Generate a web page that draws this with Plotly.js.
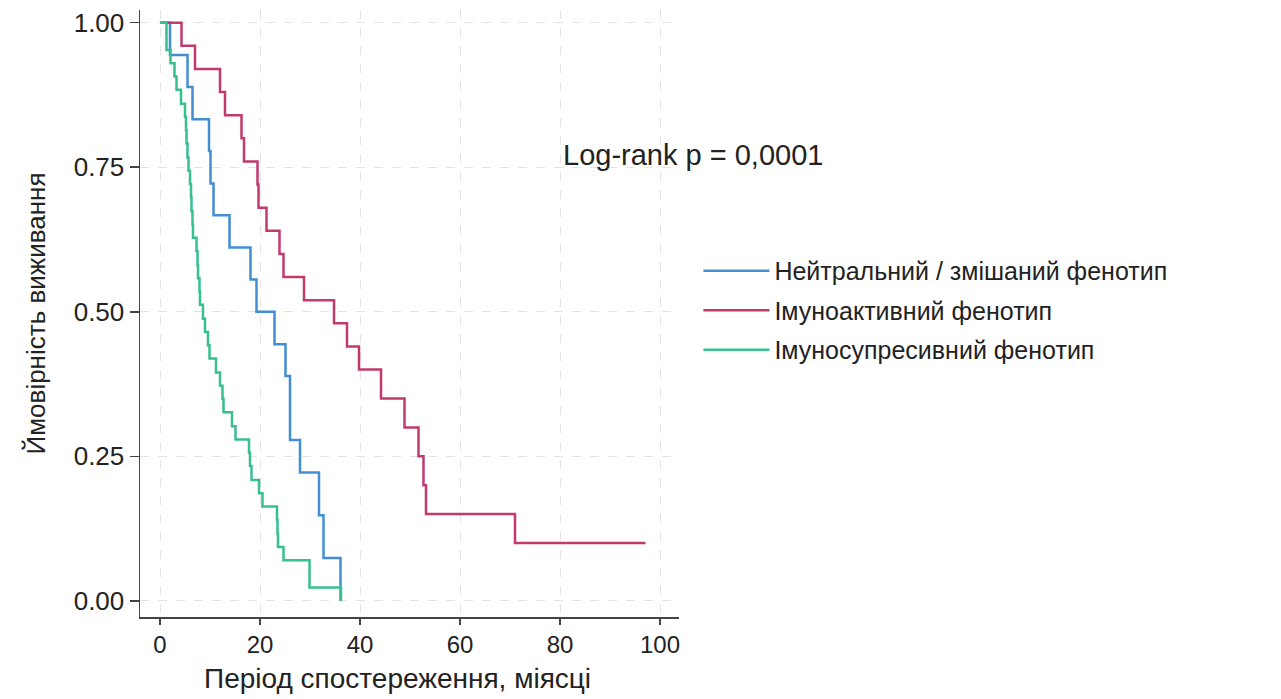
<!DOCTYPE html>
<html>
<head>
<meta charset="utf-8">
<script src="https://cdn.plot.ly/plotly-3.0.1.min.js"></script>
<style>
  html, body { margin: 0; padding: 0; background: #ffffff; }
  #chart { width: 1281px; height: 699px; }
</style>
</head>
<body>
<div id="chart"></div>
<script>
// Series names (legend)
const seriesNames = [
  "Нейтральний / змішаний фенотип",
  "Імуноактивний фенотип",
  "Імуносупресивний фенотип"
];

// Нейтральний / змішаний фенотип: step times (months) and survival
const neutralTime = [0, 2.0, 5.5, 6.5, 9.8, 10.1, 10.7, 13.9, 18.1, 19.3, 22.9, 25.1, 26.0, 28.0, 31.8, 32.7, 36.1];
const neutralSurv = [1.00, 0.944, 0.889, 0.833, 0.778, 0.722, 0.667, 0.611, 0.556, 0.500, 0.444, 0.389, 0.278, 0.222, 0.148, 0.074, 0.00];

// Імуноактивний фенотип
const activeTime = [0, 4.3, 7.0, 12.0, 13.0, 16.3, 16.8, 19.5, 19.7, 21.3, 23.9, 24.7, 28.8, 34.8, 37.4, 39.8, 44.2, 48.9, 51.7, 52.7, 53.2, 71.0, 97.1];
const activeSurv = [1.00, 0.96, 0.92, 0.88, 0.84, 0.80, 0.76, 0.72, 0.68, 0.64, 0.60, 0.56, 0.52, 0.48, 0.44, 0.40, 0.35, 0.30, 0.25, 0.20, 0.15, 0.10, 0.10];

// Імуносупресивний фенотип
const suppTime = [0, 1.3, 2.1, 2.9, 3.3, 4.2, 5.0, 5.2, 5.3, 5.5, 5.7, 6.0, 6.2, 6.3, 6.5, 6.6, 7.3, 7.5, 7.6, 7.9, 8.0, 8.6, 9.0, 9.6, 9.9, 11.2, 12.0, 12.5, 12.7, 14.4, 15.1, 17.8, 18.0, 18.3, 19.8, 20.5, 23.4, 23.5, 23.6, 24.7, 29.9, 36.2];
const suppSurv = [1.00, 0.953, 0.930, 0.907, 0.884, 0.860, 0.837, 0.814, 0.791, 0.767, 0.744, 0.721, 0.698, 0.674, 0.651, 0.628, 0.605, 0.581, 0.558, 0.535, 0.512, 0.488, 0.465, 0.442, 0.419, 0.395, 0.372, 0.349, 0.326, 0.302, 0.279, 0.256, 0.233, 0.209, 0.186, 0.163, 0.140, 0.116, 0.093, 0.070, 0.023, 0.00];

// Axis ticks and titles
const xTicks = [0, 20, 40, 60, 80, 100];
const yTicks = [0, 0.25, 0.5, 0.75, 1];
const yTickLabels = ["0.00", "0.25", "0.50", "0.75", "1.00"];
const xTitle = "Період спостереження, міясці";
const yTitle = "Ймовірність виживання";
const pValueText = "Log-rank p = 0,0001";

const colors = ["#438ed3", "#c23a6c", "#38bf8e"];
const FONT = "Liberation Sans, Arial, Helvetica, sans-serif";

const traces = [
  { x: neutralTime, y: neutralSurv, name: seriesNames[0], legendgroup: "g1" },
  { x: activeTime, y: activeSurv, name: seriesNames[1], legendgroup: "g2" },
  { x: suppTime, y: suppSurv, name: seriesNames[2], legendgroup: "g3" }
].map((t, i) => Object.assign(t, {
  type: "scatter",
  mode: "lines",
  line: { shape: "hv", color: colors[i], width: 2.5 },
  hoverinfo: "x+y+name"
}));

const layout = {
  width: 1281,
  height: 699,
  margin: { l: 140, r: 602, t: 10, b: 82 },
  paper_bgcolor: "#ffffff",
  plot_bgcolor: "#ffffff",
  font: { family: FONT, color: "#222222", size: 26 },
  showlegend: true,
  legend: {
    x: 1.036, xanchor: "left",
    y: 0.505, yanchor: "middle",
    font: { family: FONT, size: 25, color: "#222222" },
    bgcolor: "rgba(0,0,0,0)",
    tracegroupgap: 4,
    itemwidth: 66
  },
  xaxis: {
    range: [-4, 103.8],
    tickvals: xTicks,
    ticks: "outside",
    ticklen: 6,
    tickwidth: 1.5,
    tickcolor: "#444444",
    showline: true,
    linecolor: "#444444",
    linewidth: 1.5,
    zeroline: false,
    showgrid: true,
    gridcolor: "#e4e4e4",
    gridwidth: 1,
    griddash: "dash",
    tickfont: { family: FONT, size: 24, color: "#222222" }
  },
  yaxis: {
    range: [-0.028, 1.022],
    tickvals: yTicks,
    ticktext: yTickLabels,
    ticks: "outside",
    ticklen: 9,
    tickwidth: 1.5,
    tickcolor: "#444444",
    showline: true,
    linecolor: "#444444",
    linewidth: 1.5,
    zeroline: false,
    showgrid: true,
    gridcolor: "#e4e4e4",
    gridwidth: 1,
    griddash: "dash",
    tickfont: { family: FONT, size: 26, color: "#222222" },
    title: { text: yTitle, font: { family: FONT, size: 26, color: "#222222" }, standoff: 20 }
  },
  annotations: [{
    xref: "x", yref: "y",
    x: 80.2, y: 0.772,
    xanchor: "left", yanchor: "middle",
    text: pValueText,
    showarrow: false,
    font: { family: FONT, size: 29, color: "#222222" }
  }, {
    xref: "paper", yref: "paper",
    x: 0.478, y: -0.101,
    xanchor: "center", yanchor: "middle",
    text: xTitle,
    showarrow: false,
    font: { family: FONT, size: 28, color: "#222222" }
  }]
};

Plotly.newPlot("chart", traces, layout, { displayModeBar: false, staticPlot: true });
</script>
</body>
</html>
